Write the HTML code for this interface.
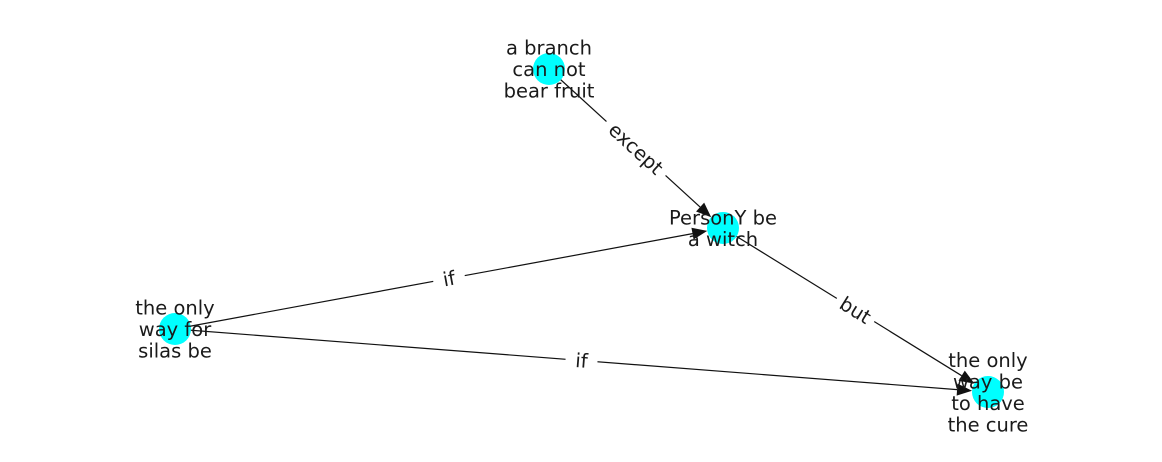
<!DOCTYPE html>
<html><head><meta charset="utf-8"><style>
html,body{margin:0;padding:0;background:#fff;}
svg{display:block;}
text{font-family:"DejaVu Sans","Liberation Sans",sans-serif;font-size:19.5px;fill:#1a1a1a;}
</style></head><body>
<svg id="g" width="1162" height="462" viewBox="0 0 1162 462"></svg>
<script>
const nodeIds = ["branch","witch","silas","cure"];
const nodeLabels = [["a branch","can not","bear fruit"],["PersonY be","a witch"],["the only","way for","silas be"],["the only","way be","to have","the cure"]];
const nodeX = [549,723,175,988];
const nodeY = [69,228,329,392];
const edgeFrom = [0,1,2,2];
const edgeTo = [1,3,1,3];
const edgeLabels = ["except","but","if","if"];
const NS="http://www.w3.org/2000/svg";
const svg=document.getElementById('g');
const R=16;
function mk(t,a,p){const e=document.createElementNS(NS,t);for(const k in a)e.setAttribute(k,a[k]);(p||svg).appendChild(e);return e;}
const edgesG=mk('g',{});


const nodesG=mk('g',{});


const labelsG=mk('g',{});


edgeFrom.forEach((f,i)=>{
  const t=edgeTo[i];
  const x1=nodeX[f],y1=nodeY[f],x2=nodeX[t],y2=nodeY[t];
  const dx=x2-x1,dy=y2-y1,L=Math.hypot(dx,dy),ux=dx/L,uy=dy/L;
  const ex=x2-ux*R,ey=y2-uy*R;
  const hl=15,hw=6;
  const bx=ex-ux*hl,by=ey-uy*hl;
  const ln=mk('line',{x1:x1,y1:y1,x2:bx,y2:by,stroke:'#111','stroke-width':1.2},edgesG);
  
  
  const ah=mk('polygon',{points:`${ex},${ey} ${bx-uy*hw},${by+ux*hw} ${bx+uy*hw},${by-ux*hw}`,fill:'#111'},edgesG);
  
  
  const mx=(x1+x2)/2,my=(y1+y2)/2;
  let ang=Math.atan2(dy,dx)*180/Math.PI;
  if(ang>90)ang-=180;if(ang<-90)ang+=180;
  const g=mk('g',{transform:`translate(${mx},${my}) rotate(${ang})`},labelsG);
  
  
  const w=edgeLabels[i].length*12+8;
  mk('rect',{x:-w/2,y:-13,width:w,height:26,fill:'#fff'},g);
  const tx=mk('text',{x:0,y:7,'text-anchor':'middle'},g);
  tx.textContent=edgeLabels[i];
});
nodeIds.forEach((id,i)=>{
  const c=mk('circle',{cx:nodeX[i],cy:nodeY[i],r:R,fill:'#00ffff'},nodesG);
  
  
  const lines=nodeLabels[i],lh=21.5;
  const t=mk('text',{'text-anchor':'middle'},labelsG);
  
  
  lines.forEach((s,k)=>{
    const sp=mk('tspan',{x:nodeX[i],y:nodeY[i]+(k-(lines.length-1)/2)*lh+7},t);
    sp.textContent=s;
  });
});
</script>
</body></html>
